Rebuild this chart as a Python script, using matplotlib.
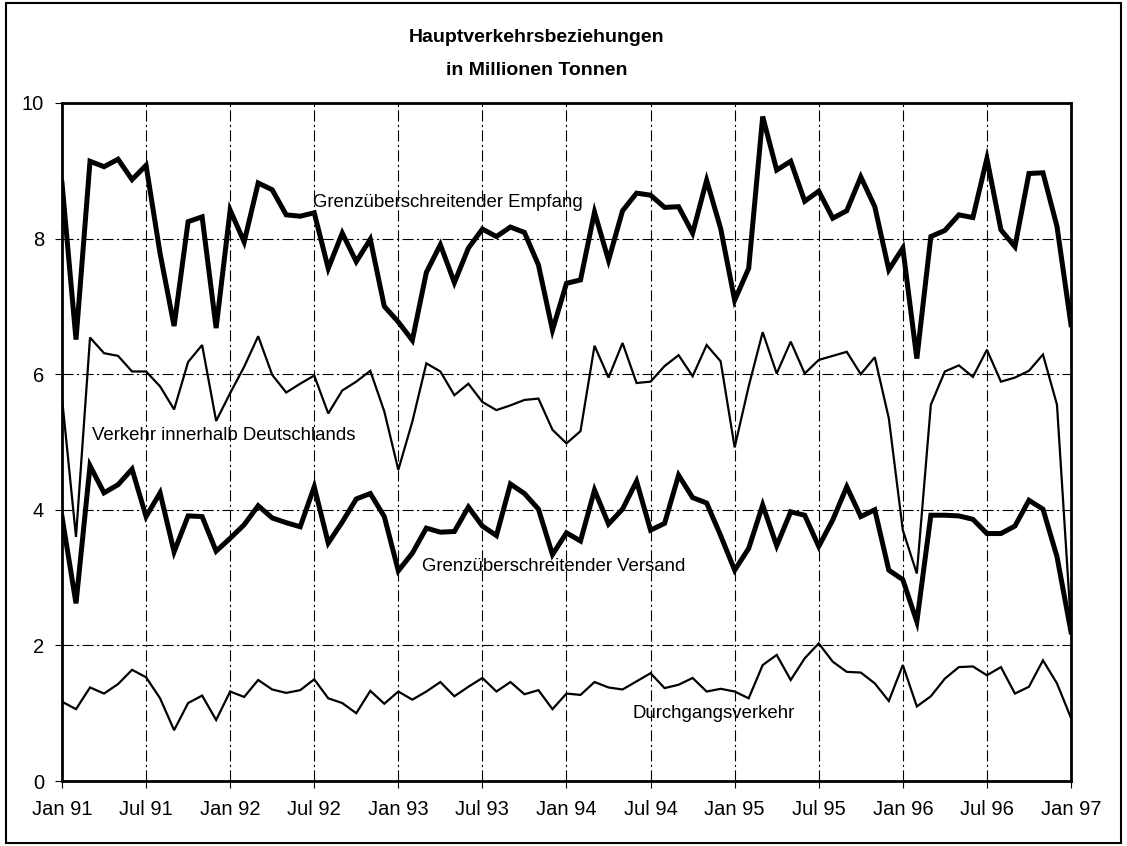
import matplotlib
matplotlib.use("Agg")
import matplotlib.pyplot as plt
from matplotlib.patches import Rectangle

plt.rcParams["font.family"] = ["Liberation Sans", "DejaVu Sans"]

# Monatswerte Jan 91 .. Jan 97 (73 Monate), in Mio. t
empfang = [8.82, 6.51, 9.14, 9.06, 9.17, 8.87, 9.08, 7.78, 6.71, 8.25, 8.32, 6.68,
           8.42, 7.95, 8.82, 8.72, 8.35, 8.33, 8.38, 7.56, 8.08, 7.66, 7.99, 7.00,
           6.77, 6.50, 7.50, 7.91, 7.35, 7.86, 8.14, 8.03, 8.17, 8.09, 7.61, 6.65,
           7.34, 7.39, 8.39, 7.68, 8.41, 8.67, 8.64, 8.46, 8.47, 8.08, 8.86, 8.15,
           7.09, 7.56, 9.80, 9.01, 9.14, 8.55, 8.70, 8.30, 8.41, 8.91, 8.47, 7.54,
           7.86, 6.23, 8.03, 8.12, 8.35, 8.31, 9.18, 8.13, 7.88, 8.96, 8.97, 8.18,
           6.73]
inland = [5.65, 3.60, 6.54, 6.31, 6.27, 6.04, 6.04, 5.82, 5.48, 6.18, 6.43, 5.31,
          5.72, 6.11, 6.56, 5.99, 5.73, 5.86, 5.98, 5.42, 5.76, 5.89, 6.05, 5.45,
          4.59, 5.30, 6.16, 6.04, 5.69, 5.86, 5.59, 5.47, 5.54, 5.62, 5.64, 5.18,
          4.98, 5.16, 6.42, 5.95, 6.46, 5.87, 5.89, 6.12, 6.28, 5.97, 6.43, 6.19,
          4.92, 5.82, 6.62, 6.01, 6.48, 6.01, 6.21, 6.27, 6.33, 6.00, 6.25, 5.35,
          3.70, 3.06, 5.55, 6.04, 6.13, 5.96, 6.36, 5.89, 5.95, 6.05, 6.29, 5.55,
          2.30]
versand = [3.90, 2.62, 4.65, 4.25, 4.37, 4.60, 3.90, 4.25, 3.38, 3.91, 3.90, 3.39,
           3.58, 3.78, 4.06, 3.88, 3.81, 3.75, 4.34, 3.51, 3.82, 4.16, 4.24, 3.90,
           3.10, 3.36, 3.73, 3.67, 3.68, 4.04, 3.76, 3.62, 4.38, 4.24, 4.01, 3.34,
           3.66, 3.54, 4.29, 3.79, 4.01, 4.42, 3.70, 3.80, 4.51, 4.18, 4.10, 3.62,
           3.11, 3.43, 4.07, 3.47, 3.97, 3.92, 3.46, 3.85, 4.34, 3.90, 4.00, 3.11,
           2.97, 2.35, 3.92, 3.92, 3.91, 3.86, 3.65, 3.65, 3.76, 4.14, 4.01, 3.31,
           2.20]
durchgang = [1.17, 1.06, 1.38, 1.29, 1.43, 1.64, 1.53, 1.22, 0.75, 1.15, 1.26, 0.90,
             1.32, 1.24, 1.49, 1.35, 1.30, 1.34, 1.50, 1.22, 1.15, 1.00, 1.33, 1.14,
             1.32, 1.20, 1.32, 1.46, 1.25, 1.39, 1.52, 1.32, 1.46, 1.28, 1.34, 1.06,
             1.29, 1.27, 1.46, 1.38, 1.35, 1.47, 1.59, 1.37, 1.42, 1.52, 1.32, 1.36,
             1.32, 1.22, 1.71, 1.86, 1.49, 1.81, 2.03, 1.76, 1.61, 1.60, 1.44, 1.18,
             1.71, 1.10, 1.25, 1.51, 1.68, 1.69, 1.56, 1.68, 1.29, 1.39, 1.78, 1.44,
             0.93]

tick_labels = ["Jan 91", "Jul 91", "Jan 92", "Jul 92", "Jan 93", "Jul 93", "Jan 94",
               "Jul 94", "Jan 95", "Jul 95", "Jan 96", "Jul 96", "Jan 97"]
y_ticks = [0, 2, 4, 6, 8, 10]

months = list(range(len(empfang)))
tick_pos = list(range(0, len(empfang), 6))

fig = plt.figure(figsize=(11.27, 8.46), dpi=100)
ax = fig.add_axes([0.055, 0.0768, 0.8953, 0.8015])

# Rahmen um die ganze Grafik
fig.patches.append(Rectangle((0.005, 0.004), 0.99, 0.992, transform=fig.transFigure,
                             fill=False, edgecolor="black", linewidth=1.5))

# Gitter strichpunktiert
for x in tick_pos[1:-1]:
    ax.axvline(x, color="black", lw=0.8, ls=(0, (10, 3, 2, 3)), zorder=1)
for y in y_ticks[1:-1]:
    ax.axhline(y, color="black", lw=0.8, ls=(0, (10, 3, 2, 3)), zorder=1)

ax.plot(months, empfang, color="black", lw=3.6, solid_joinstyle="miter", zorder=3)
ax.plot(months, inland, color="black", lw=1.6, solid_joinstyle="miter", zorder=3)
ax.plot(months, versand, color="black", lw=3.6, solid_joinstyle="miter", zorder=3)
ax.plot(months, durchgang, color="black", lw=1.6, solid_joinstyle="miter", zorder=3)

ax.set_xlim(0, len(empfang) - 1)
ax.set_ylim(0, 10)
ax.set_xticks(tick_pos)
ax.set_xticklabels(tick_labels)
ax.set_yticks(y_ticks)
ax.tick_params(axis="x", labelsize=14.5, length=5, pad=9)
ax.tick_params(axis="y", labelsize=14.5, length=5, pad=8)
for s in ax.spines.values():
    s.set_linewidth(2)

lab = dict(fontsize=13.4, va="center", ha="left", zorder=4)
ax.text(17.9, 8.53, "Grenzüberschreitender Empfang", **lab)
ax.text(2.14, 5.10, "Verkehr innerhalb Deutschlands", **lab)
ax.text(25.66, 3.16, "Grenzüberschreitender Versand", **lab)
ax.text(40.7, 1.00, "Durchgangsverkehr", **lab)

title = dict(ha="center", va="baseline", fontsize=14, fontweight="bold")
fig.text(0.476, 0.9504, "Hauptverkehrsbeziehungen", **title)
fig.text(0.476, 0.9113, "in Millionen Tonnen", **title)

fig.savefig("out.png", dpi=100)
